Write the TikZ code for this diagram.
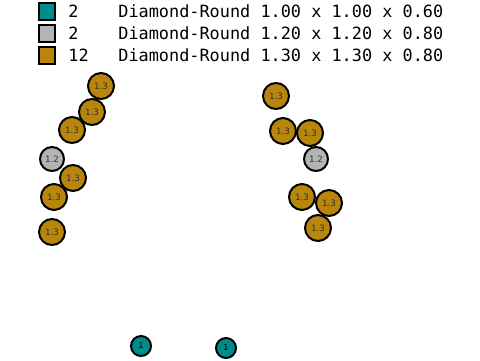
\documentclass[tikz,border=0pt]{standalone}
\usepackage{fontspec}
\setmonofont{DejaVu Sans Mono}
\setsansfont{DejaVu Sans}
\definecolor{tealfill}{HTML}{008B8B}
\definecolor{grayfill}{HTML}{B4B4B4}
\definecolor{goldfill}{HTML}{B8860B}
\begin{document}
\begin{tikzpicture}[x=0.02cm,y=-0.02cm,
    disc/.style={circle,draw=black,line width=0.04cm,inner sep=0pt,
      font=\sffamily\fontsize{5}{5}\selectfont,text=black!80},
    big/.style={disc,fill=goldfill,minimum size=0.52cm},
    mid/.style={disc,fill=grayfill,minimum size=0.48cm},
    small/.style={disc,fill=tealfill,minimum size=0.40cm,text=black,
      font=\sffamily\fontsize{4.6}{5}\selectfont},
    key/.style={draw=black,line width=0.04cm,minimum size=0.34cm,inner sep=0pt},
    txt/.style={anchor=west,inner sep=0pt,font=\ttfamily\fontsize{9.6}{10}\selectfont}]
  \useasboundingbox (0,0) rectangle (480,360);
  % legend
  \node[key,fill=tealfill] (k1) at (47,11) {};
  \node[key,fill=grayfill] (k2) at (47,33) {};
  \node[key,fill=goldfill] (k3) at (47,55) {};
  \node[txt] (n1) at (68,11) {2};
  \node[txt] (n2) at (68,33) {2};
  \node[txt] (n3) at (68,55) {12};
  \node[txt] (d1) at (118,11) {Diamond-Round 1.00 x 1.00 x 0.60};
  \node[txt] (d2) at (118,33) {Diamond-Round 1.20 x 1.20 x 0.80};
  \node[txt] (d3) at (118,55) {Diamond-Round 1.30 x 1.30 x 0.80};
  % left group
  \node[big] (l1) at (101,86) {1.3};
  \node[big] (l2) at (92,112) {1.3};
  \node[big] (l3) at (72,130) {1.3};
  \node[mid] (l4) at (52,159) {1.2};
  \node[big] (l5) at (73,178) {1.3};
  \node[big] (l6) at (54,197) {1.3};
  \node[big] (l7) at (52,232) {1.3};
  % right group
  \node[big] (r1) at (276,96) {1.3};
  \node[big] (r2) at (283,131) {1.3};
  \node[big] (r3) at (310,133) {1.3};
  \node[mid] (r4) at (316,159) {1.2};
  \node[big] (r5) at (302,197) {1.3};
  \node[big] (r6) at (329,203) {1.3};
  \node[big] (r7) at (318,228) {1.3};
  % bottom
  \node[small] (b1) at (141,346) {1};
  \node[small] (b2) at (226,348) {1};
\end{tikzpicture}
\end{document}
